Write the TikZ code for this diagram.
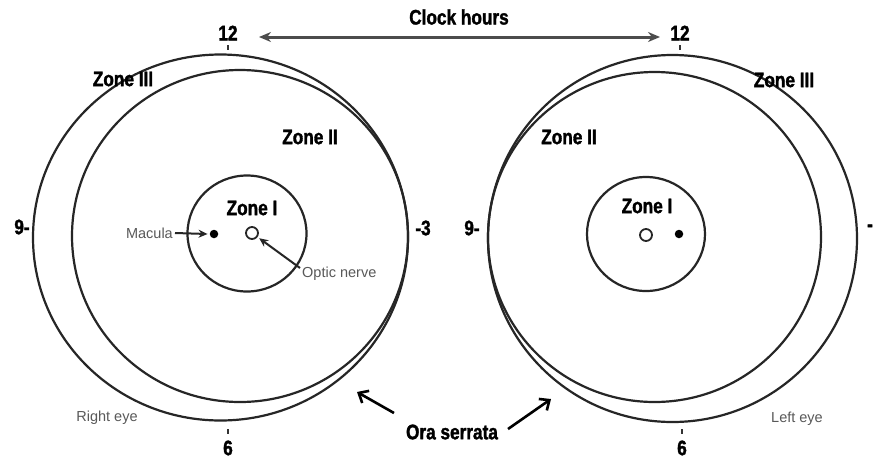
\documentclass[tikz,border=0pt]{standalone}
\usepackage{fontspec}
\setmainfont{Liberation Sans}
\newfontfamily\imp{Liberation Sans}[FakeStretch=0.82, BoldFeatures={FakeBold=1.6}]
\usetikzlibrary{arrows.meta}
\begin{document}
\begin{tikzpicture}[x=1pt,y=-1pt,
  ring/.style={line width=2.2pt, draw=black!85},
  big/.style={font=\imp\bfseries\fontsize{21}{21}\selectfont, inner sep=0pt},
  small/.style={font=\fontsize{14.5}{15}\selectfont, text=black!65, inner sep=0pt},
  tick/.style={line width=1.6pt, draw=black!80},
  dotm/.style={circle, fill=black, inner sep=0pt, minimum size=8.5pt},
  onerve/.style={circle, draw=black!85, line width=1.8pt, inner sep=0pt, minimum size=12pt},
  thinarr/.style={line width=2pt, draw=black!85, -{Stealth[length=9pt,width=8pt]}},
  barb/.style={line width=2.6pt, draw=black, -{Straight Barb[length=8pt,width=14pt]}},
  clockarr/.style={line width=3pt, draw=black!70, {Stealth[length=12pt,width=10pt]}-{Stealth[length=12pt,width=10pt]}}
]
\useasboundingbox (0,0) rectangle (877,461);
\fill[white] (0,0) rectangle (877,461);

% ---------- Right eye (left in picture) ----------
\draw[ring] (220.5,237.5) ellipse [x radius=187.5pt, y radius=183pt];
\draw[ring] (240,236) ellipse [x radius=168pt, y radius=166pt];
\draw[ring] (247,233.5) ellipse [x radius=59.5pt, y radius=58pt];

% ---------- Left eye (right in picture) ----------
\draw[ring] (672.5,238.5) ellipse [x radius=184.5pt, y radius=183.5pt];
\draw[ring] (654.5,237) ellipse [x radius=166.5pt, y radius=165pt];
\draw[ring] (646,234) ellipse [x radius=59pt, y radius=57pt];

% ticks
\draw[tick] (228,45) -- (228,50);
\draw[tick] (680,45) -- (680,50);
\draw[tick] (228,429) -- (228,434);
\draw[tick] (682,429) -- (682,434);

% clock numbers
\node[big] (t12L) at (228,33) {12};
\node[big] (t12R) at (680,33) {12};
\node[big] (t9L) at (22,227) {9-};
\node[big] (t3L) at (423,228) {-3};
\node[big] (t9R) at (472,228) {9-};
\node[big] (t3R) at (870,228) {-};
\node[big] (t6L) at (228,448) {6};
\node[big] (t6R) at (682,448) {6};

% clock hours
\node[big] (clock) at (459,17) {Clock hours};
\coordinate (chL) at (259,37);
\coordinate (chR) at (660,37);
\draw[clockarr] (chL) -- (chR);

% zone labels
\node[big] (z3L) at (123,79) {Zone III};
\node[big] (z2L) at (310,137) {Zone II};
\node[big] (z1L) at (252,208) {Zone I};
\node[big] (z3R) at (784,80) {Zone III};
\node[big] (z2R) at (569,137) {Zone II};
\node[big] (z1R) at (647,206) {Zone I};

% macula & optic nerve
\node[dotm] (macR) at (214,234) {};
\node[onerve] (onR) at (252,233) {};
\node[dotm] (macLe) at (679,234) {};
\node[onerve] (onLe) at (646,235) {};

\node[small, anchor=east] (maclab) at (173,233) {Macula};
\draw[thinarr] ([xshift=2pt]maclab.east) -- ([xshift=-2pt]macR.west);
\node[small, anchor=west] (onlab) at (302,274) {Optic nerve};
\coordinate (ontail) at (300,268);
\draw[thinarr, shorten >=2pt] (ontail) -- (onR);

% eye labels
\node[small] (reye) at (107,418) {Right eye};
\node[small] (leye) at (797,419) {Left eye};

% ora serrata
\node[big] (ora) at (452,432) {Ora serrata};
\coordinate (oraLt) at (394,413);
\coordinate (oraLh) at (357,392);
\coordinate (oraRt) at (508,429);
\coordinate (oraRh) at (551,399);
\draw[barb] (oraLt) -- (oraLh);
\draw[barb] (oraRt) -- (oraRh);
\end{tikzpicture}
\end{document}
